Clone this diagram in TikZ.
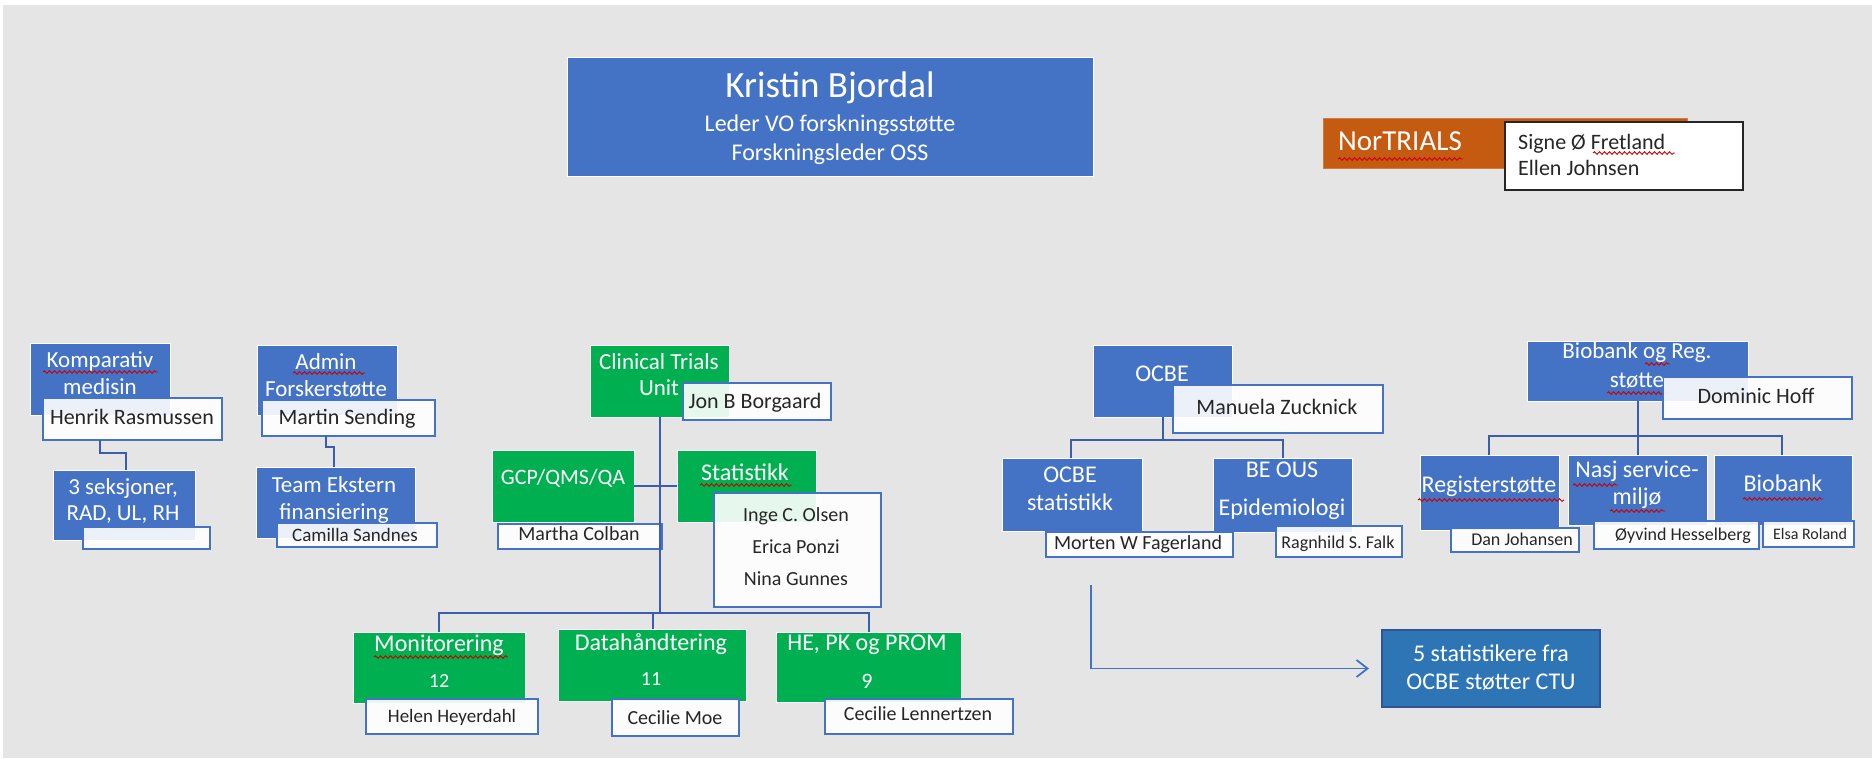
\documentclass[tikz,border=0pt]{standalone}
\usepackage{fontspec}
\setmainfont{Carlito}
\usetikzlibrary{arrows.meta,decorations.pathmorphing}
\definecolor{cblue}{HTML}{4472C4}
\definecolor{cgreen}{HTML}{00B050}
\definecolor{corange}{HTML}{C55A11}
\definecolor{cline}{HTML}{3A5DAE}
\definecolor{cbg}{HTML}{E5E5E5}
\definecolor{cdark}{HTML}{2E75B6}
\definecolor{cdarkb}{HTML}{2F5597}
\definecolor{ctext}{HTML}{262626}
\newcommand\mybox[6]{\node[#1, minimum width={(#5)-(#3)}, minimum height={(#6)-(#4)}] (#2) at (#3,#4) {};}
\newcommand\tx[5]{\node[txt, font=\fontsize{#3}{#3}\selectfont, text=#4] (#1) at (#2) {#5};}
\tikzset{
  base/.style={anchor=north west, inner sep=0pt, outer sep=0pt},
  bluebox/.style={base, fill=cblue, draw=white, line width=1pt},
  greenbox/.style={base, fill=cgreen, draw=white, line width=1pt},
  orangebox/.style={base, fill=corange, draw=corange!80!white, line width=0.6pt},
  darkbox/.style={base, fill=cdark, draw=cdarkb, line width=1.2pt},
  namebox/.style={base, fill=white, fill opacity=0.9, draw=cblue, line width=1.8pt},
  blackbox/.style={base, fill=white, draw=black!85, line width=1.8pt},
  txt/.style={inner sep=0pt, anchor=mid, yshift=-5pt},
  txtw/.style={inner sep=0pt, anchor=mid west, yshift=-5pt},
  conn/.style={draw=cline, line width=2.2pt},
  arr/.style={draw=cblue, line width=1.8pt, -{Straight Barb[length=11pt,width=17pt,line width=1.8pt]}, shorten >=13pt},
  sq/.style={draw=red!80!black, line width=0.9pt, decorate, decoration={snake, amplitude=1.3pt, segment length=5pt}}
}
\begin{document}
\begin{tikzpicture}[x=1pt,y=-1pt]
\useasboundingbox (0,0) rectangle (1872,758);
\fill[white] (0,0) rectangle (1872,758);
\fill[cbg] (3,5) rectangle (1872,758);

% top
\mybox{bluebox}{kb}{567}{57}{1093}{176}
\mybox{orangebox}{nt}{1323}{118}{1687}{168}
\draw[sq] (1338,159) -- (1463,159);
\mybox{blackbox}{ntn}{1505}{122}{1743}{190}
\draw[sq] (1593,153) -- (1675,153);

% left groups
\mybox{bluebox}{komp}{30}{343}{170}{415}
\draw[sq] (43,372) -- (158,372);
\mybox{namebox}{henrik}{43}{398}{222}{440}
\mybox{bluebox}{sek}{53}{470}{195}{540}
\mybox{namebox}{empty}{83}{527}{210}{549}
\mybox{bluebox}{admin}{257}{345}{397}{415}
\draw[sq] (293,373) -- (365,373);
\mybox{namebox}{martin}{262}{400}{435}{436}
\mybox{bluebox}{team}{256}{467}{415}{538}
\mybox{namebox}{camilla}{277}{523}{437}{547}

% CTU group
\mybox{greenbox}{ctu}{590}{345}{729}{417}
\mybox{namebox}{jon}{683}{383}{831}{420}
\mybox{greenbox}{gcp}{492}{450}{634}{522}
\mybox{greenbox}{stat}{677}{450}{816}{522}
\draw[sq] (700,485) -- (792,485);
\mybox{namebox}{martha}{498}{524}{662}{549}
\mybox{namebox}{inge}{714}{493}{881}{607}
\mybox{greenbox}{mon}{353}{632}{525}{703}
\draw[sq] (374,657) -- (508,657);
\mybox{namebox}{helen}{366}{699}{538}{734}
\mybox{greenbox}{data}{558}{629}{746}{701}
\mybox{namebox}{cmoe}{612}{699}{739}{736}
\mybox{greenbox}{he}{776}{632}{961}{702}
\mybox{namebox}{clen}{825}{699}{1013}{734}

% OCBE group
\mybox{bluebox}{ocbe}{1093}{345}{1232}{417}
\mybox{namebox}{manuela}{1173}{385}{1383}{433}
\mybox{bluebox}{ostat}{1002}{458}{1142}{531}
\mybox{bluebox}{beous}{1213}{458}{1352}{532}
\mybox{namebox}{morten}{1046}{532}{1233}{557}
\mybox{namebox}{ragn}{1276}{526}{1402}{557}
\mybox{darkbox}{stat5}{1382}{630}{1600}{707}

% Biobank group
\mybox{bluebox}{bioreg}{1527}{341}{1748}{401}
\draw[sq] (1645,364) -- (1670,364);
\draw[sq] (1607,393) -- (1670,393);
\mybox{namebox}{dominic}{1663}{377}{1852}{419}
\mybox{bluebox}{reg}{1420}{455}{1559}{530}
\draw[sq] (1418,500) -- (1564,500);
\mybox{bluebox}{nasj}{1568}{455}{1707}{525}
\draw[sq] (1573,485) -- (1618,485);
\draw[sq] (1610,511) -- (1665,511);
\mybox{bluebox}{bio}{1714}{455}{1852}{525}
\draw[sq] (1743,499) -- (1823,499);
\mybox{namebox}{dan}{1451}{528}{1579}{552}
\mybox{namebox}{oyv}{1594}{521}{1759}{549}
\mybox{namebox}{elsa}{1763}{521}{1854}{547}

% connectors
\draw[conn] ([xshift=57pt]henrik.south west) -- ++(0,13) -| ([xshift=73pt]sek.north west);
\draw[conn] ([xshift=64pt]martin.south west) -- ++(0,11) -| ([xshift=78pt]team.north west);
\draw[conn] (gcp.east) -- (stat.west);
\draw[conn] ([xshift=70pt]ctu.south west) -- ++(0,196) coordinate (busc);
\draw[conn] ([xshift=86pt]mon.north west) |- (busc) -| ([xshift=93pt]he.north west);
\draw[conn] ([xshift=95pt]data.north west) -- ([xshift=95pt]data.north west |- busc);
\draw[conn] ([xshift=70pt]ocbe.south west) -- ++(0,23) coordinate (ob);
\draw[conn] ([xshift=69pt]ostat.north west) |- (ob) -| ([xshift=70pt]beous.north west);
\draw[conn] ([xshift=111pt]bioreg.south west) -- ++(0,35) coordinate (bb);
\draw[conn] ([xshift=69pt]reg.north west) |- (bb) -| ([xshift=68pt]bio.north west);
\draw[conn] ([xshift=70pt]nasj.north west) -- ([xshift=70pt]nasj.north west |- bb);
\coordinate (arrstart) at (1091,585);
\draw[arr] (arrstart) |- (stat5.west);

% texts
\tx{t1}{830,90}{37}{white}{Kristin Bjordal}
\tx{t2}{830,124}{24}{white}{Leder VO forskningsstøtte}
\tx{t3}{830,153}{24}{white}{Forskningsleder OSS}
\node[txtw, font=\fontsize{29}{29}\selectfont, text=white] (t4) at (1338,143) {NorTRIALS};
\node[txtw, font=\fontsize{22}{22}\selectfont, text=ctext] (t5) at (1518,142) {Signe Ø Fretland};
\node[txtw, font=\fontsize{22}{22}\selectfont, text=ctext] (t6) at (1518,168) {Ellen Johnsen};

\tx{t7}{100,360}{23}{white}{Komparativ}
\tx{t8}{100,387}{23}{white}{medisin}
\tx{t9}{132,417}{22}{ctext}{Henrik Rasmussen}
\tx{t10}{123,487}{23}{white}{3 seksjoner,}
\tx{t11}{123,513}{23}{white}{RAD, UL, RH}
\tx{t12}{326,362}{23}{white}{Admin}
\tx{t13}{326,389}{23}{white}{Forskerstøtte}
\tx{t14}{347,417}{22}{ctext}{Martin Sending}
\tx{t15}{334,485}{23}{white}{Team Ekstern}
\tx{t16}{334,512}{23}{white}{finansiering}
\tx{t17}{355,534}{19}{ctext}{Camilla Sandnes}

\tx{t18}{659,362}{23}{white}{Clinical Trials}
\tx{t19}{659,388}{23}{white}{Unit}
\tx{t20}{755,401}{22}{ctext}{Jon B Borgaard}
\tx{t21}{563,477}{22}{white}{GCP/QMS/QA}
\tx{t22}{745,473}{24}{white}{Statistikk}
\tx{t23}{579,533}{20}{ctext}{Martha Colban}
\tx{t24}{796,514}{20}{ctext}{Inge C. Olsen}
\tx{t25}{796,546}{20}{ctext}{Erica Ponzi}
\tx{t26}{796,578}{20}{ctext}{Nina Gunnes}
\tx{t27}{439,644}{24}{white}{Monitorering}
\tx{t28}{439,680}{20}{white}{12}
\tx{t29}{452,715}{19}{ctext}{Helen Heyerdahl}
\tx{t30}{651,643}{24}{white}{Datahåndtering}
\tx{t31}{651,678}{20}{white}{11}
\tx{t32}{675,717}{20}{ctext}{Cecilie Moe}
\tx{t33}{867,643}{24}{white}{HE, PK og PROM}
\tx{t34}{867,681}{22}{white}{9}
\tx{t35}{918,713}{20}{ctext}{Cecilie Lennertzen}

\tx{t36}{1162,374}{24}{white}{OCBE}
\tx{t37}{1277,407}{22}{ctext}{Manuela Zucknick}
\tx{t38}{1070,475}{24}{white}{OCBE}
\tx{t39}{1070,503}{24}{white}{statistikk}
\tx{t40}{1282,470}{24}{white}{BE OUS}
\tx{t41}{1282,508}{24}{white}{Epidemiologi}
\tx{t42}{1138,542}{20}{ctext}{Morten W Fagerland}
\tx{t43}{1338,541}{18}{ctext}{Ragnhild S. Falk}
\tx{t44}{1491,654}{24}{white}{5 statistikere fra}
\tx{t45}{1491,682}{24}{white}{OCBE støtter CTU}

\tx{t46}{1637,351}{23}{white}{Biobank og Reg.}
\tx{t47}{1637,380}{23}{white}{støtte}
\tx{t48}{1756,396}{22}{ctext}{Dominic Hoff}
\tx{t49}{1489,485}{24}{white}{Registerstøtte}
\tx{t50}{1637,470}{24}{white}{Nasj service-}
\tx{t51}{1637,497}{24}{white}{miljø}
\tx{t52}{1783,484}{24}{white}{Biobank}
\tx{t53}{1522,538}{18}{ctext}{Dan Johansen}
\tx{t54}{1683,533}{18}{ctext}{Øyvind Hesselberg}
\tx{t55}{1810,532}{16}{ctext}{Elsa Roland}
\end{tikzpicture}
\end{document}
